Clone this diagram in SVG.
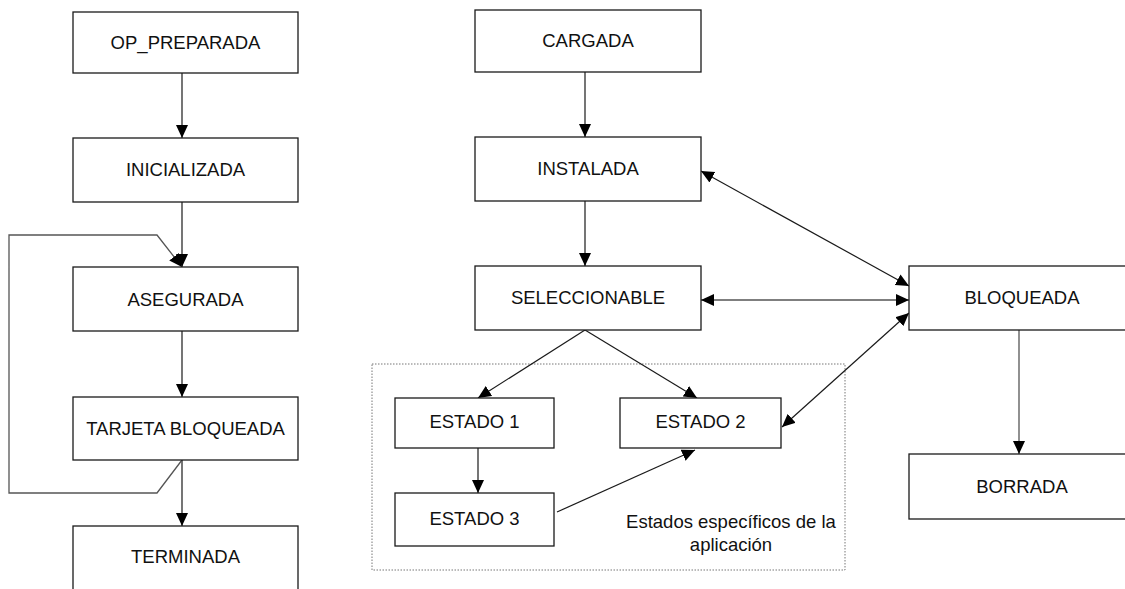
<svg xmlns="http://www.w3.org/2000/svg" width="1125" height="589" viewBox="0 0 1125 589">
<defs>
<marker id="ah" markerWidth="14" markerHeight="13" refX="13" refY="6" orient="auto-start-reverse" markerUnits="userSpaceOnUse">
<path d="M0,0 L13,6 L0,12 z" fill="#000"/>
</marker>
<style>
.box{fill:#fff;stroke:#1a1a1a;stroke-width:1.3}
.lbl{font-family:"Liberation Sans",Arial,sans-serif;font-size:18.5px;fill:#111;text-anchor:middle}
.c{fill:none;stroke:#1a1a1a;stroke-width:1.2}
.g{fill:none;stroke:#555;stroke-width:1.3}
</style>
</defs>
<rect width="1125" height="589" fill="#fff"/>
<rect x="372" y="364" width="473" height="206" fill="none" stroke="#777" stroke-width="1" stroke-dasharray="1.5,1.5"/>
<text class="lbl" x="731" y="528">Estados específicos de la</text>
<text class="lbl" x="731" y="551">aplicación</text>
<g id="connectors">
<line class="c" x1="182" y1="73" x2="182" y2="138" marker-end="url(#ah)"/>
<line class="c" x1="182" y1="202" x2="182" y2="267" marker-end="url(#ah)"/>
<line class="c" x1="182" y1="331" x2="182" y2="397" marker-end="url(#ah)"/>
<line class="c" x1="182" y1="460" x2="182" y2="526" marker-end="url(#ah)"/>
<polyline class="g" points="182,460 157,493 9,493 9,235 157,235 182,267" marker-end="url(#ah)"/>
<line class="c" x1="585" y1="72" x2="585" y2="137" marker-end="url(#ah)"/>
<line class="c" x1="585" y1="201" x2="585" y2="266" marker-end="url(#ah)"/>
<line class="c" x1="585" y1="330" x2="478" y2="398" marker-end="url(#ah)"/>
<line class="c" x1="585" y1="330" x2="697" y2="398" marker-end="url(#ah)"/>
<line class="c" x1="478" y1="448" x2="478" y2="493" marker-end="url(#ah)"/>
<line class="c" x1="557" y1="512" x2="695" y2="450" marker-end="url(#ah)"/>
<line class="c" x1="701" y1="171" x2="909" y2="286" marker-start="url(#ah)" marker-end="url(#ah)"/>
<line class="g" x1="701" y1="300" x2="909" y2="300" marker-start="url(#ah)" marker-end="url(#ah)"/>
<line class="c" x1="782" y1="427" x2="909" y2="313" marker-start="url(#ah)" marker-end="url(#ah)"/>
<line class="g" x1="1019" y1="330" x2="1019" y2="454" marker-end="url(#ah)"/>
</g>
<g id="op_preparada"><rect class="box" x="73" y="12" width="225" height="61"/><text class="lbl" x="185.5" y="49">OP_PREPARADA</text></g>
<g id="inicializada"><rect class="box" x="73" y="138" width="225" height="64"/><text class="lbl" x="185.5" y="176">INICIALIZADA</text></g>
<g id="asegurada"><rect class="box" x="73" y="267" width="225" height="64"/><text class="lbl" x="185.5" y="306">ASEGURADA</text></g>
<g id="tarjeta_bloqueada"><rect class="box" x="73" y="397" width="225" height="63"/><text class="lbl" x="185.5" y="435">TARJETA BLOQUEADA</text></g>
<g id="terminada"><rect class="box" x="73" y="526" width="225" height="70"/><text class="lbl" x="185.5" y="563">TERMINADA</text></g>
<g id="cargada"><rect class="box" x="475" y="10" width="226" height="62"/><text class="lbl" x="588" y="47">CARGADA</text></g>
<g id="instalada"><rect class="box" x="475" y="137" width="226" height="64"/><text class="lbl" x="588" y="175">INSTALADA</text></g>
<g id="seleccionable"><rect class="box" x="475" y="266" width="226" height="64"/><text class="lbl" x="588" y="304">SELECCIONABLE</text></g>
<g id="bloqueada"><rect class="box" x="909" y="266" width="226" height="64"/><text class="lbl" x="1022" y="304">BLOQUEADA</text></g>
<g id="borrada"><rect class="box" x="909" y="454" width="226" height="65"/><text class="lbl" x="1022" y="493">BORRADA</text></g>
<g id="estado1"><rect class="box" x="395" y="398" width="159" height="50"/><text class="lbl" x="474.5" y="428">ESTADO 1</text></g>
<g id="estado2"><rect class="box" x="620" y="398" width="161" height="50"/><text class="lbl" x="700.5" y="428">ESTADO 2</text></g>
<g id="estado3"><rect class="box" x="395" y="493" width="159" height="53"/><text class="lbl" x="474.5" y="525">ESTADO 3</text></g>
</svg>
